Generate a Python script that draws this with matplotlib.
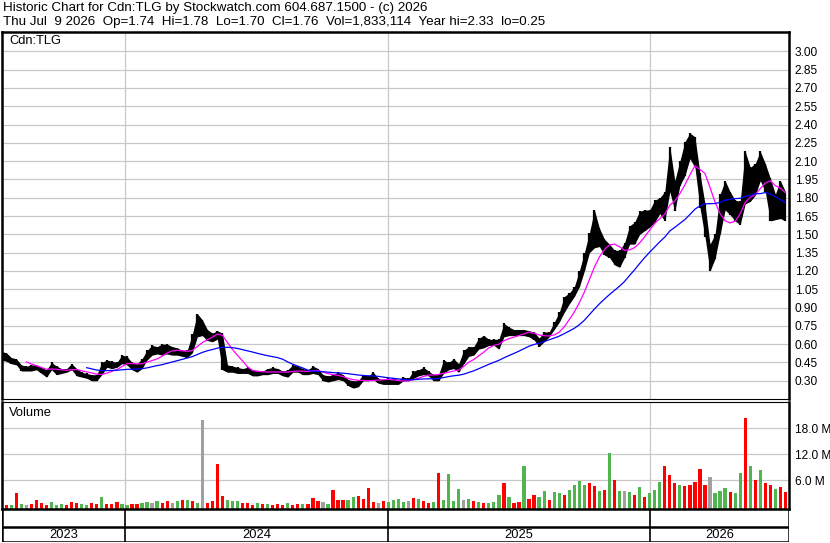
import numpy as np
import pandas as pd
import matplotlib
matplotlib.use('Agg')
import matplotlib.pyplot as plt

plt.rcParams['font.family'] = ['Liberation Sans', 'DejaVu Sans']

# weekly bars (Jul 2023 - Jul 2026)
week_start = pd.date_range('2023-07-10', periods=157, freq='7D')

high = [0.54, 0.53, 0.49, 0.48, 0.43, 0.42, 0.43, 0.43, 0.41, 0.39,
        0.45, 0.42, 0.40, 0.40, 0.44, 0.40, 0.37, 0.36, 0.35, 0.35,
        0.45, 0.47, 0.46, 0.45, 0.51, 0.50, 0.45, 0.44, 0.48, 0.55,
        0.59, 0.58, 0.60, 0.60, 0.58, 0.57, 0.55, 0.55, 0.68, 0.85,
        0.80, 0.72, 0.69, 0.71, 0.69, 0.43, 0.42, 0.41, 0.40, 0.41,
        0.39, 0.38, 0.38, 0.40, 0.41, 0.40, 0.38, 0.39, 0.43, 0.42,
        0.40, 0.39, 0.42, 0.40, 0.35, 0.34, 0.35, 0.37, 0.35, 0.31,
        0.30, 0.30, 0.35, 0.34, 0.37, 0.32, 0.31, 0.32, 0.32, 0.31,
        0.33, 0.32, 0.38, 0.39, 0.41, 0.38, 0.35, 0.35, 0.47, 0.45,
        0.48, 0.44, 0.55, 0.58, 0.58, 0.65, 0.67, 0.64, 0.64, 0.64,
        0.77, 0.74, 0.72, 0.72, 0.72, 0.71, 0.70, 0.65, 0.70, 0.70,
        0.78, 0.86, 0.99, 1.02, 1.07, 1.20, 1.35, 1.51, 1.70, 1.55,
        1.46, 1.42, 1.37, 1.37, 1.43, 1.57, 1.60, 1.69, 1.70, 1.70,
        1.78, 1.80, 1.85, 2.22, 1.94, 2.10, 2.26, 2.33, 2.30, 2.00,
        1.75, 1.42, 1.50, 1.83, 1.94, 1.85, 1.78, 1.77, 2.18, 2.05,
        2.08, 2.18, 2.08, 1.96, 1.83, 1.94, 1.85]

low = [0.47, 0.46, 0.44, 0.43, 0.38, 0.38, 0.38, 0.39, 0.36, 0.33,
       0.39, 0.35, 0.36, 0.37, 0.39, 0.34, 0.33, 0.32, 0.30, 0.30,
       0.35, 0.41, 0.40, 0.41, 0.44, 0.43, 0.39, 0.37, 0.40, 0.47,
       0.51, 0.52, 0.51, 0.52, 0.51, 0.51, 0.50, 0.49, 0.53, 0.66,
       0.67, 0.63, 0.62, 0.64, 0.39, 0.37, 0.37, 0.36, 0.36, 0.36,
       0.34, 0.34, 0.35, 0.35, 0.36, 0.36, 0.34, 0.33, 0.37, 0.37,
       0.35, 0.35, 0.36, 0.35, 0.30, 0.29, 0.30, 0.31, 0.30, 0.26,
       0.24, 0.25, 0.30, 0.30, 0.31, 0.28, 0.27, 0.27, 0.27, 0.27,
       0.30, 0.30, 0.32, 0.34, 0.35, 0.34, 0.30, 0.30, 0.36, 0.39,
       0.40, 0.37, 0.44, 0.50, 0.51, 0.56, 0.57, 0.59, 0.59, 0.56,
       0.66, 0.67, 0.67, 0.67, 0.67, 0.66, 0.635, 0.58, 0.62, 0.66,
       0.72, 0.78, 0.86, 0.93, 0.99, 1.07, 1.20, 1.35, 1.39, 1.40,
       1.33, 1.31, 1.25, 1.23, 1.31, 1.42, 1.42, 1.50, 1.53, 1.56,
       1.60, 1.67, 1.61, 1.85, 1.69, 1.90, 1.98, 2.12, 2.05, 1.72,
       1.48, 1.20, 1.30, 1.50, 1.70, 1.66, 1.61, 1.58, 1.75, 1.77,
       1.82, 1.94, 1.85, 1.61, 1.62, 1.63, 1.61]

# volume in millions, direction: g = up, r = down, n = unchanged
vol = [0.4, 0.3, 0.4, 3.1, 0.5, 0.4, 0.6, 1.5, 0.8, 0.4,
       1.1, 0.4, 0.5, 0.4, 1.0, 0.7, 0.6, 0.4, 0.8, 0.6,
       2.1, 0.5, 0.6, 1.0, 0.5, 0.4, 0.6, 0.5, 0.7, 0.9,
       0.8, 1.3, 0.7, 1.2, 0.8, 1.2, 1.4, 1.5, 1.2, 0.8,
       19.9, 0.8, 1.2, 9.8, 2.4, 1.4, 1.3, 1.3, 0.7, 0.8,
       0.4, 0.8, 0.5, 0.6, 0.3, 0.5, 0.4, 0.7, 0.4, 0.5,
       0.5, 0.6, 1.9, 1.2, 1.0, 0.6, 3.8, 1.4, 1.4, 1.5,
       2.1, 2.4, 1.6, 4.2, 0.9, 0.8, 1.2, 1.0, 1.4, 1.6,
       0.9, 1.2, 2.0, 1.6, 1.3, 0.8, 1.0, 7.6, 1.5, 7.4,
       1.2, 4.0, 1.4, 1.6, 1.2, 1.0, 0.8, 0.7, 0.9, 2.5,
       5.4, 2.2, 0.8, 1.0, 9.3, 1.6, 2.6, 2.2, 3.6, 1.4,
       3.2, 3.0, 2.6, 3.8, 5.0, 5.8, 4.9, 5.3, 4.8, 3.6,
       3.8, 12.4, 6.1, 3.6, 3.5, 3.2, 2.6, 4.5, 2.2, 3.0,
       3.8, 5.5, 9.4, 7.2, 5.3, 5.0, 4.8, 4.9, 5.5, 8.6,
       5.0, 6.8, 3.0, 3.5, 4.2, 3.2, 3.0, 7.6, 20.4, 9.3,
       6.0, 8.3, 5.3, 5.0, 4.0, 4.5, 3.3]
vol_dir = ("rrgrgnrrrr" "gggrrrggrr" "grrrggrrgg" "ngrrngrgrg"
           "nrrrrgggrr" "rgrgrrrgrr" "grrrngrrrg" "grrrrnrggg"
           "gnrgrrgrgg" "ggngrgrggg" "rgrrgrrggr" "ggrggggrrg"
           "rgrgngrgrg" "ggrrrgrrrr" "rngggrggrg" "rgrrgrr")

years = ['2023', '2024', '2025', '2026']
year_starts = pd.to_datetime(['2024-01-01', '2025-01-01', '2026-01-01'])
price_ticks = np.arange(0.30, 3.01, 0.15)
vol_ticks = [6, 12, 18]

W, H = 830, 543
def fx(px):
    return px / W
def fy(py):
    return 1 - py / H

x = week_start + pd.Timedelta(days=2.5)
mid = (np.array(high) + np.array(low)) / 2
ma_fast = pd.Series(mid).rolling(6).mean()
ma_slow = pd.Series(mid).rolling(18).mean()
xmin = pd.Timestamp('2023-07-13 12:00')
xmax = pd.Timestamp('2026-07-13 12:00')

fig = plt.figure(figsize=(8.3, 5.43), dpi=100)

grid_c = '#c8c8c8'
fs = 8.6

# price panel
ax = fig.add_axes([fx(2), fy(399), fx(787), 367 / H])
ax.fill_between(x, low, high, color='black', linewidth=0)
ax.vlines(x, low, high, color='black', linewidth=1.6)
ax.plot(x, ma_fast, color='#ff00ff', linewidth=0.9)
ax.plot(x, ma_slow, color='#0000ff', linewidth=0.9)
ax.set_xlim(xmin, xmax)
ax.set_ylim(0.30 - (399 - 380.7) / 122.5, 0.30 + (380.7 - 30.5) / 122.5)
ax.set_yticks(price_ticks)
ax.set_yticklabels(['%.2f' % v for v in price_ticks])
ax.set_xticks(year_starts)
ax.set_xticklabels([])
ax.yaxis.tick_right()
ax.tick_params(axis='both', length=0, labelsize=fs, pad=4)
ax.grid(color=grid_c, linewidth=0.9)
ax.set_axisbelow(True)
for s in ['left', 'right', 'top']:
    ax.spines[s].set_linewidth(1.8)
ax.spines['bottom'].set_linewidth(0.8)
ax.text(0.009, 0.975, 'Cdn:TLG', transform=ax.transAxes, fontsize=9.3,
        va='center', ha='left')

# volume panel
axv = fig.add_axes([fx(2), fy(509), fx(787), 107 / H])
cmap = {'g': '#50b450', 'r': '#ff0000', 'n': '#a0a0a0'}
vcolors = [cmap[c] for c in vol_dir]
vbottom = -0.62
axv.bar(x, np.array(vol) - vbottom, bottom=vbottom, width=4.5,
        color=vcolors, linewidth=0)
axv.set_xlim(xmin, xmax)
axv.set_ylim(vbottom, 24.07)
axv.set_yticks(vol_ticks)
axv.set_yticklabels(['%.1f M' % v for v in vol_ticks])
axv.set_xticks(year_starts)
axv.set_xticklabels([])
axv.yaxis.tick_right()
axv.tick_params(axis='both', length=0, labelsize=fs, pad=4)
axv.grid(color=grid_c, linewidth=0.9)
axv.set_axisbelow(True)
for s in ['left', 'right', 'bottom']:
    axv.spines[s].set_linewidth(1.8)
axv.spines['top'].set_linewidth(0.8)
axv.text(0.009, 0.9, 'Volume', transform=axv.transAxes, fontsize=9.3,
         va='center', ha='left')

# date strip
axd = fig.add_axes([fx(2), fy(542), fx(787), 33 / H])
axd.set_xlim(xmin, xmax)
axd.set_ylim(0, 1)
axd.axis('off')
axd.axhline(15 / 33, color='black', linewidth=1.8)
axd.axhline(0, color='black', linewidth=1.8)
axd.vlines(year_starts, 0, 1, color='black', linewidth=1.2)
axd.axvline(xmin, color='black', linewidth=1.8)
axd.axvline(xmax, color='black', linewidth=1.8)
bounds = [xmin] + list(year_starts) + [xmax]
for i, yr in enumerate(years):
    c = bounds[i] + (bounds[i + 1] - bounds[i]) / 2
    axd.text(c, 7 / 33, yr, ha='center', va='center', fontsize=9.3)

# header
fig.text(fx(3), fy(8), 'Historic Chart for Cdn:TLG by Stockwatch.com 604.687.1500 - (c) 2026',
         fontsize=9.6, va='center', ha='left')
fig.text(fx(3), fy(21.5), 'Thu Jul  9 2026  Op=1.74  Hi=1.78  Lo=1.70  Cl=1.76  '
         'Vol=1,833,114  Year hi=2.33  lo=0.25',
         fontsize=9.6, va='center', ha='left')

fig.savefig('out.png', dpi=100)
